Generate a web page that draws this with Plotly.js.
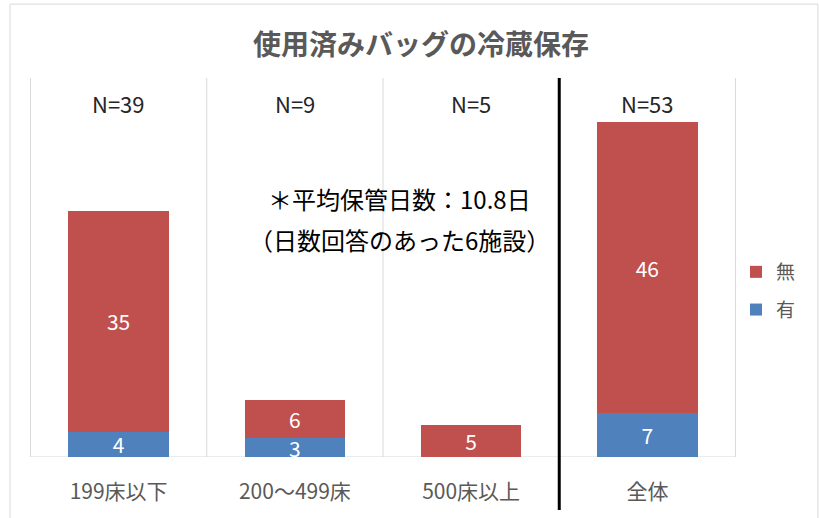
<!DOCTYPE html>
<html><head><meta charset="utf-8">
<script src="https://cdn.plot.ly/plotly-3.0.1.min.js"></script>
<style>html,body{margin:0;padding:0;background:#fff;}#chart{width:819px;height:518px;}</style>
</head><body><div id="chart"></div>
<script>
const categories = ['199床以下', '200～499床', '500床以上', '全体'];
const yesValues = [4, 3, 0, 7];      // 有
const noValues = [35, 6, 5, 46];     // 無
const nLabels = ['N=39', 'N=9', 'N=5', 'N=53'];
const noteLines = ['＊平均保管日数：10.8日', '（日数回答のあった6施設）'];

const FONT = '"Noto Sans CJK JP", "Noto Sans", sans-serif';
const lbl = v => (v ? String(v) : '');

const traces = [
  {type: 'bar', name: '有', legendgroup: 'yes', legendrank: 2, x: categories, y: yesValues, marker: {color: '#4F81BD'},
   text: yesValues.map(lbl), textposition: 'inside', insidetextanchor: 'middle', constraintext: 'none', textangle: 0,
   textfont: {color: '#ffffff', size: 21, family: FONT}, hoverinfo: 'none'},
  {type: 'bar', name: '無', legendgroup: 'no', legendrank: 1, x: categories, y: noValues, marker: {color: '#C0504D'},
   text: noValues.map(lbl), textposition: 'inside', insidetextanchor: 'middle', constraintext: 'none', textangle: 0,
   textfont: {color: '#ffffff', size: 21, family: FONT}, hoverinfo: 'none'}
];

const annotations = nLabels.map((t, i) => ({
  x: categories[i], y: 1, xref: 'x', yref: 'paper', yanchor: 'middle', yshift: -25, text: t, showarrow: false,
  font: {size: 22, color: '#262626', family: FONT}
}));
annotations.push({x: 0.524, y: 0.683, xref: 'paper', yref: 'paper', xanchor: 'center', yanchor: 'middle', text: noteLines[0], showarrow: false,
  font: {size: 24, color: '#000000', family: FONT}});
annotations.push({x: 0.524, y: 0.5726, xref: 'paper', yref: 'paper', xanchor: 'center', yanchor: 'middle', text: noteLines[1], showarrow: false,
  font: {size: 24, color: '#000000', family: FONT}});

const shapes = [];
[-0.5, 0.5, 1.5, 3.5].forEach(p => shapes.push({type: 'line', xref: 'x', yref: 'paper', x0: p, x1: p, y0: 0, y1: 1,
  line: {color: '#D9D9D9', width: 1}, layer: 'below'}));
shapes.push({type: 'line', xref: 'x', yref: 'paper', x0: 2.5, x1: 2.5, y0: -0.14, y1: 1, line: {color: '#000000', width: 3}});
shapes.push({type: 'line', xref: 'paper', yref: 'y', x0: 0, x1: 1, y0: 0, y1: 0, line: {color: '#D9D9D9', width: 1}, layer: 'below'});
shapes.push({type: 'rect', xref: 'paper', yref: 'paper', x0: -0.0283, x1: 1.116, y0: -0.17, y1: 1.195,
  line: {color: '#D9D9D9', width: 1}, fillcolor: 'rgba(0,0,0,0)'});

const layout = {
  width: 819, height: 518,
  margin: {l: 30, r: 83, t: 78, b: 61},
  paper_bgcolor: '#ffffff', plot_bgcolor: '#ffffff',
  barmode: 'stack', bargap: 0.43,
  title: {text: '使用済みバッグの冷蔵保存', x: 0.514, xanchor: 'center', y: 0.913, yanchor: 'middle',
    font: {size: 28, color: '#595959', family: FONT, weight: 'bold'}},
  xaxis: {type: 'category', showgrid: false, zeroline: false, showline: false, automargin: false,
    ticks: 'outside', ticklen: 16, tickcolor: 'rgba(0,0,0,0)',
    tickfont: {size: 21, color: '#595959', family: FONT}},
  yaxis: {range: [0, 60], showgrid: false, zeroline: false, showline: false, showticklabels: false, ticks: '', automargin: false},
  legend: {x: 1.0, y: 0.438, xanchor: 'left', yanchor: 'middle', traceorder: 'grouped',
    font: {size: 19, color: '#595959', family: FONT}, itemwidth: 30, tracegroupgap: 10},
  showlegend: true,
  annotations: annotations,
  shapes: shapes
};
Plotly.newPlot('chart', traces, layout, {displayModeBar: false, staticPlot: true});
</script></body></html>
